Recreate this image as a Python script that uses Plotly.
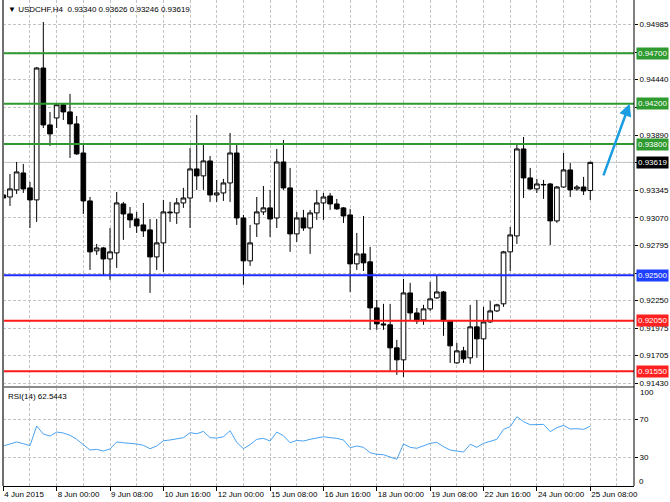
import plotly.graph_objects as go

bars = list(range(89))

opens = [0.93296, 0.93276, 0.93346, 0.93514, 0.93366, 0.93247, 0.94554, 0.93990, 0.94059, 0.94190,
         0.94119, 0.94000, 0.93712, 0.93237, 0.92742, 0.92771, 0.92662, 0.92722, 0.93207, 0.93108,
         0.93058, 0.92999, 0.92950, 0.92682, 0.92821, 0.93118, 0.93118, 0.93217, 0.93266, 0.93554,
         0.93485, 0.93633, 0.93296, 0.93316, 0.93415, 0.93712, 0.93068, 0.92643, 0.93009, 0.93128,
         0.93168, 0.93068, 0.93623, 0.93366, 0.92910, 0.93068, 0.92969, 0.93118, 0.93217, 0.93286,
         0.93207, 0.93168, 0.93098, 0.92613, 0.92712, 0.92633, 0.92177, 0.92018, 0.92009, 0.91781,
         0.91662, 0.92325, 0.92127, 0.92058, 0.92167, 0.92276, 0.92335, 0.92048, 0.91632, 0.91751,
         0.91682, 0.91989, 0.91870, 0.92038, 0.92147, 0.92217, 0.92732, 0.92890, 0.93752, 0.93465,
         0.93356, 0.93395, 0.93405, 0.93039, 0.93375, 0.93544, 0.93356, 0.93375, 0.93340]

highs = [0.93564, 0.93504, 0.93623, 0.93603, 0.93425, 0.94564, 0.95010, 0.94119, 0.94205, 0.94205,
         0.94297, 0.94079, 0.93801, 0.93276, 0.92811, 0.92781, 0.92969, 0.93326, 0.93227, 0.93177,
         0.93128, 0.93217, 0.93058, 0.93058, 0.93247, 0.93227, 0.93266, 0.93366, 0.93762, 0.94089,
         0.93811, 0.93683, 0.93445, 0.93455, 0.93910, 0.93811, 0.93098, 0.92999, 0.93276, 0.93385,
         0.93346, 0.93752, 0.93841, 0.93564, 0.93128, 0.93148, 0.93148, 0.93346, 0.93316, 0.93316,
         0.93257, 0.93177, 0.93158, 0.92920, 0.93088, 0.92781, 0.92256, 0.92217, 0.92217, 0.91860,
         0.92464, 0.92425, 0.92177, 0.92207, 0.92434, 0.92504, 0.92345, 0.92058, 0.91830, 0.91791,
         0.92207, 0.92256, 0.92187, 0.92246, 0.92217, 0.92742, 0.92979, 0.93792, 0.93871, 0.93564,
         0.93455, 0.93445, 0.93415, 0.93385, 0.93712, 0.93613, 0.93395, 0.93475, 0.93626]

lows = [0.93128, 0.93187, 0.93306, 0.93316, 0.92969, 0.93029, 0.93960, 0.93782, 0.93960, 0.94039,
        0.93663, 0.93693, 0.93108, 0.92553, 0.92702, 0.92504, 0.92454, 0.92573, 0.92851, 0.92969,
        0.92920, 0.92880, 0.92325, 0.92553, 0.92534, 0.93029, 0.93009, 0.93168, 0.92969, 0.93346,
        0.93346, 0.93227, 0.93227, 0.93237, 0.93227, 0.92999, 0.92405, 0.92593, 0.92880, 0.93098,
        0.92880, 0.92969, 0.93346, 0.92732, 0.92831, 0.92940, 0.92712, 0.93049, 0.93049, 0.93148,
        0.93148, 0.93019, 0.92335, 0.92553, 0.92543, 0.91959, 0.91959, 0.91959, 0.91553, 0.91513,
        0.91493, 0.92058, 0.92018, 0.92009, 0.92147, 0.92266, 0.91900, 0.91632, 0.91622, 0.91632,
        0.91622, 0.91682, 0.91553, 0.92028, 0.92137, 0.92187, 0.92543, 0.92811, 0.93266, 0.93346,
        0.93316, 0.93257, 0.92801, 0.93019, 0.93366, 0.93276, 0.93336, 0.93296, 0.93246]

closes = [0.93266, 0.93356, 0.93524, 0.93356, 0.93247, 0.94554, 0.93990, 0.93901, 0.94190, 0.94119,
          0.94000, 0.93703, 0.93237, 0.92732, 0.92771, 0.92662, 0.92732, 0.93217, 0.93108, 0.93049,
          0.92989, 0.92940, 0.92682, 0.92821, 0.93128, 0.93125, 0.93217, 0.93266, 0.93554, 0.93485,
          0.93633, 0.93296, 0.93316, 0.93415, 0.93712, 0.93068, 0.92643, 0.92821, 0.93128, 0.93168,
          0.93058, 0.93623, 0.93366, 0.92910, 0.93068, 0.92969, 0.93118, 0.93217, 0.93276, 0.93207,
          0.93158, 0.93088, 0.92613, 0.92712, 0.92623, 0.92177, 0.92018, 0.92009, 0.91781, 0.91662,
          0.92325, 0.92127, 0.92048, 0.92167, 0.92266, 0.92335, 0.92048, 0.91801, 0.91751, 0.91672,
          0.91989, 0.91870, 0.92038, 0.92147, 0.92207, 0.92732, 0.92900, 0.93752, 0.93465, 0.93356,
          0.93405, 0.93400, 0.93039, 0.93375, 0.93544, 0.93346, 0.93375, 0.93336, 0.93619]

rsi = [41.8, 43.6, 46.0, 44.2, 42.1, 62.7, 54.3, 52.2, 56.4, 55.4,
       53.0, 48.8, 42.8, 37.6, 38.3, 36.6, 38.7, 46.0, 45.2, 44.6,
       43.9, 42.5, 39.0, 41.8, 47.3, 48.1, 49.4, 50.5, 55.7, 54.6,
       57.1, 50.5, 50.1, 51.5, 57.8, 45.6, 39.0, 43.2, 48.8, 49.8,
       47.0, 56.4, 52.6, 45.2, 47.7, 47.0, 48.8, 50.1, 51.5, 50.5,
       49.8, 48.1, 40.0, 41.8, 40.4, 34.8, 33.1, 32.7, 30.6, 27.9,
       43.9, 40.4, 39.4, 42.1, 44.6, 45.6, 41.1, 37.6, 36.2, 35.5,
       43.6, 40.4, 44.6, 47.0, 48.8, 59.2, 62.0, 72.4, 67.2, 64.0,
       64.4, 64.4, 56.8, 60.9, 63.4, 59.6, 59.9, 59.2, 62.5443]

x_tick_bars = [0, 8, 16, 24, 32, 40, 48, 56, 64, 72, 80, 88]
x_tick_labels = ["4 Jun 2015", "8 Jun 00:00", "9 Jun 08:00", "10 Jun 16:00", "12 Jun 00:00",
                 "15 Jun 08:00", "16 Jun 16:00", "18 Jun 00:00", "19 Jun 08:00", "22 Jun 16:00",
                 "24 Jun 00:00", "25 Jun 08:00"]

# grid prices on the right scale; the ones hidden behind level boxes carry no label
price_ticks = [0.94985, 0.94712, 0.94440, 0.94165, 0.93890, 0.93620, 0.93345,
               0.93070, 0.92795, 0.92520, 0.92250, 0.91975, 0.91705, 0.91430]
price_tick_labels = ["0.94985", "", "0.94440", "", "0.93890", "", "0.93345",
                     "0.93070", "0.92795", "", "0.92250", "0.91975", "0.91705", "0.91430"]

rsi_ticks = [70, 30]
rsi_tick_labels = ["70", "30"]
rsi_top_label = "100"
rsi_bottom_label = "0"

levels = [0.94700, 0.94200, 0.93800, 0.92500, 0.92050, 0.91550]
level_labels = ["0.94700", "0.94200", "0.93800", "0.92500", "0.92050", "0.91550"]
level_colors = ["#2f9a2f", "#2f9a2f", "#2f9a2f", "#1f2bff", "#ff1a1a", "#ff1a1a"]
level_box_colors = ["#2f9a2f", "#2f9a2f", "#2f9a2f", "#1f3fff", "#ff2020", "#ff2020"]

last_price = 0.93619
title_text = "USDCHF,H4  0.93340 0.93626 0.93246 0.93619"
rsi_title = "RSI(14) 62.5443"

FONT = "Liberation Sans, Arial, sans-serif"
GRID = "#c4c4c4"
DASH = "3px,2px"

fig = go.Figure()
fig.add_trace(go.Candlestick(
    x=bars, open=opens, high=highs, low=lows, close=closes,
    increasing=dict(line=dict(color="black", width=1), fillcolor="white"),
    decreasing=dict(line=dict(color="black", width=1), fillcolor="black"),
    whiskerwidth=0, xaxis="x", yaxis="y", showlegend=False, hoverinfo="none"))
fig.add_trace(go.Scatter(
    x=bars, y=rsi, mode="lines", line=dict(color="#4aa3f2", width=1),
    xaxis="x", yaxis="y2", showlegend=False, hoverinfo="none"))

shapes = []
shapes.append(dict(type="line", xref="paper", x0=0, x1=1, yref="y", y0=last_price, y1=last_price,
                   line=dict(color="#c8c8c8", width=1), layer="below"))
for lv, col in zip(levels, level_colors):
    shapes.append(dict(type="line", xref="paper", x0=0, x1=1, yref="y", y0=lv, y1=lv,
                       line=dict(color=col, width=2)))
shapes.append(dict(type="rect", xref="paper", x0=0, x1=1, yref="paper", y0=0.2016, y1=0.2060,
                   fillcolor="#8a8a8a", line=dict(width=0)))
shapes.append(dict(type="line", xref="paper", x0=0, x1=0, yref="paper", y0=0, y1=1,
                   line=dict(color="#707070", width=2)))
shapes.append(dict(type="line", xref="paper", x0=1, x1=1, yref="paper", y0=0, y1=1,
                   line=dict(color="black", width=1)))

annotations = []
for lv, txt, col in zip(levels, level_labels, level_box_colors):
    annotations.append(dict(x=1, xref="paper", xanchor="left", xshift=2, y=lv, yref="y",
                            text=txt, showarrow=False, bgcolor=col, borderpad=1,
                            font=dict(family=FONT, size=8, color="white")))
annotations.append(dict(x=1, xref="paper", xanchor="left", xshift=2, y=last_price, yref="y",
                        text="0.93619", showarrow=False, bgcolor="black", borderpad=1,
                        font=dict(family=FONT, size=8, color="white")))
annotations.append(dict(x=0, xref="paper", xanchor="left", xshift=3, y=1, yref="paper",
                        yanchor="top", yshift=-3, text="▼ " + title_text, showarrow=False,
                        font=dict(family=FONT, size=8, color="black")))
annotations.append(dict(x=0, xref="paper", xanchor="left", xshift=3, y=0.2016, yref="paper",
                        yanchor="top", yshift=-2, text=rsi_title, showarrow=False,
                        font=dict(family=FONT, size=8, color="black")))
annotations.append(dict(x=1, xref="paper", xanchor="left", xshift=4, y=98, yref="y2",
                        yanchor="middle", text=rsi_top_label, showarrow=False,
                        font=dict(family=FONT, size=8, color="black")))
annotations.append(dict(x=1, xref="paper", xanchor="left", xshift=4, y=5, yref="y2",
                        yanchor="middle", text=rsi_bottom_label, showarrow=False,
                        bgcolor="white", borderpad=0,
                        font=dict(family=FONT, size=8, color="black")))
annotations.append(dict(x=93.9, y=0.94200, xref="x", yref="y", ax=89.9, ay=0.93475,
                        axref="x", ayref="y", showarrow=True, arrowhead=2, arrowsize=1,
                        arrowwidth=2.5, arrowcolor="#1b9de2", standoff=0, text=""))

fig.update_layout(
    width=670, height=502,
    margin=dict(l=3, r=36, t=0, b=16, autoexpand=False),
    paper_bgcolor="white", plot_bgcolor="white",
    font=dict(family=FONT, size=8, color="black"),
    showlegend=False,
    boxgap=0.3, boxgroupgap=0,
    xaxis=dict(domain=[0, 1], range=[-0.045, 94.56], anchor="y2",
               rangeslider=dict(visible=False), automargin=False,
               tickmode="array", tickvals=x_tick_bars, ticktext=x_tick_labels,
               tickangle=0,
               ticks="outside", ticklen=4, tickcolor="black",
               ticklabelposition="outside right",
               showline=True, linecolor="black", linewidth=1,
               showgrid=True, gridcolor=GRID, griddash=DASH, gridwidth=1,
               minor=dict(tickmode="linear", tick0=0, dtick=4, showgrid=True,
                          gridcolor=GRID, griddash=DASH, ticklen=0),
               zeroline=False, tickfont=dict(size=8)),
    yaxis=dict(domain=[0.2060, 1], range=[0.91404, 0.95228], side="right", anchor="x",
               automargin=False,
               tickmode="array", tickvals=price_ticks, ticktext=price_tick_labels,
               ticks="outside", ticklen=3, tickcolor="black",
               showline=False, showgrid=True, gridcolor=GRID, griddash=DASH,
               zeroline=False, tickfont=dict(size=8)),
    yaxis2=dict(domain=[0, 0.2016], range=[0, 102.4], side="right", anchor="x",
                automargin=False,
                tickmode="array", tickvals=rsi_ticks, ticktext=rsi_tick_labels,
                ticks="outside", ticklen=3, tickcolor="black",
                showline=False, showgrid=True, gridcolor=GRID, griddash=DASH,
                zeroline=False, tickfont=dict(size=8)),
    shapes=shapes,
    annotations=annotations,
)

fig.write_html("out.html")
